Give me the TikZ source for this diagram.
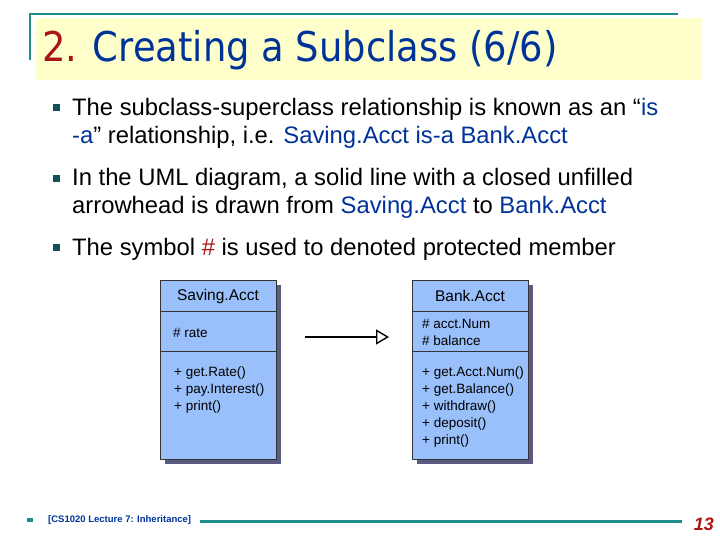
\documentclass[tikz,border=0pt]{standalone}
\usepackage{fontspec}
\setmainfont{Liberation Sans}
\newfontfamily\titlefont{DejaVu Sans Condensed}
\usetikzlibrary{arrows.meta}
\definecolor{teal1}{RGB}{32,140,140}
\definecolor{ttlyel}{RGB}{255,255,204}
\definecolor{navy}{RGB}{0,51,153}
\definecolor{dred}{RGB}{170,20,20}
\definecolor{umlblue}{RGB}{153,192,250}
\definecolor{shad}{RGB}{90,90,130}
\definecolor{bulc}{RGB}{20,80,90}
\begin{document}
\begin{tikzpicture}[x=1pt,y=-1pt,
  bul/.style={fill=bulc,minimum size=7pt,inner sep=0pt},
  btxt/.style={anchor=base west,font=\fontsize{23.8}{26}\selectfont,inner sep=0pt},
  ctxt/.style={anchor=north west,font=\fontsize{13.5}{17}\selectfont,inner sep=0pt,align=left}]
\useasboundingbox (0,0) rectangle (720,540);
\fill[ttlyel] (36,18) rectangle (702,80);
\draw[teal1,line width=2.5pt] (30,60) -- (30,14) -- (678,14);
\node[anchor=base west,inner sep=0pt,font=\titlefont\fontsize{41}{46}\selectfont,text=navy] (title) at (42,62) {\textcolor{dred}{2.} Creating a Subclass (6/6)};
\node[bul] (b1) at (56,108) {};
\node[btxt] (t1) at (72,116) {The subclass-superclass relationship is known as an “\textcolor{navy}{is}};
\node[btxt] (t1b) at (72,144) {\textcolor{navy}{-a}” relationship, i.e. \textcolor{navy}{Saving.Acct is-a Bank.Acct}};
\node[bul] (b2) at (56,179) {};
\node[btxt] (t2) at (72,186) {In the UML diagram, a solid line with a closed unfilled};
\node[btxt] (t2b) at (72,214) {arrowhead is drawn from \textcolor{navy}{Saving.Acct} to \textcolor{navy}{Bank.Acct}};
\node[bul] (b3) at (56,247) {};
\node[btxt] (t3) at (72,255) {The symbol \textcolor{dred}{\#} is used to denoted protected member};
\foreach \x in {160,412}{
  \fill[shad] (\x+5,285) rectangle (\x+121,464);
  \draw[fill=umlblue,draw=black!80,line width=0.6pt] (\x,280) rectangle (\x+116,459);
  \draw[black!80,line width=0.6pt] (\x,311) -- (\x+116,311) (\x,351) -- (\x+116,351);
}
\node[font=\fontsize{15.5}{18}\selectfont] (sa) at (218,296) {Saving.Acct};
\node[font=\fontsize{15.5}{18}\selectfont] (ba) at (470,296) {Bank.Acct};
\node[ctxt] (sa1) at (173,328) {\# rate};
\node[ctxt] (sa2) at (174,367) {+ get.Rate()\\+ pay.Interest()\\+ print()};
\node[ctxt] (ba1) at (422,319) {\# acct.Num\\\# balance};
\node[ctxt] (ba2) at (422,367) {+ get.Acct.Num()\\+ get.Balance()\\+ withdraw()\\+ deposit()\\+ print()};
\coordinate (as) at (305,337);
\coordinate (ae) at (389,337);
\draw[line width=1.4pt,-{Triangle[open,length=13pt,width=15pt]}] (as) -- (ae);
\fill[teal1] (27,518) rectangle (33,522);
\node[anchor=west,inner sep=0pt,font=\fontsize{9.5}{10}\selectfont\bfseries,text=navy] (ft) at (48,520) {[CS1020 Lecture 7: Inheritance]};
\draw[teal1,line width=3pt] (200,521) -- (682,521);
\node[anchor=base east,inner sep=0pt,font=\fontsize{18}{20}\selectfont\bfseries\itshape,text=dred] (pg) at (714,530) {13};
\end{tikzpicture}
\end{document}
